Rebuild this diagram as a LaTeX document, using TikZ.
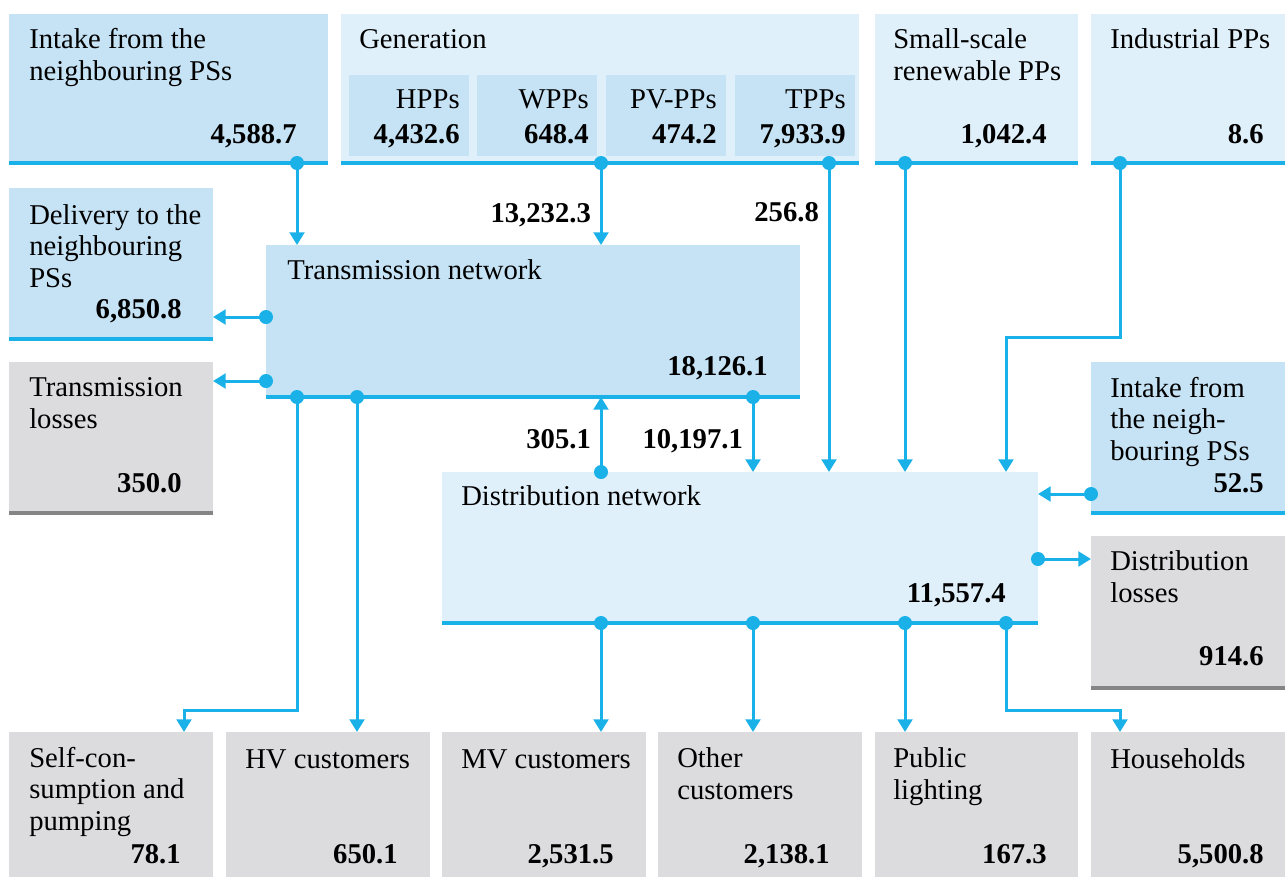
\documentclass[tikz,border=0pt]{standalone}
\usepackage{fontspec}
\setmainfont{Liberation Serif}
\usetikzlibrary{arrows.meta}
\usetikzlibrary{fit}

\definecolor{boxblue}{HTML}{C6E3F5}
\definecolor{boxpale}{HTML}{E0F0FA}
\definecolor{boxgrey}{HTML}{DCDCDE}
\definecolor{flowblue}{HTML}{1AB0E8}
\definecolor{rulegrey}{HTML}{858585}

\newcommand\diafont{\fontsize{21.5pt}{23.6pt}\selectfont}

\tikzset{
  blk/.style={inner sep=0pt, outer sep=0pt},
  bluebox/.style={blk, fill=boxblue},
  palebox/.style={blk, fill=boxpale},
  greybox/.style={blk, fill=boxgrey},
  lbl/.style={anchor=base west, align=left, inner sep=0pt, font=\diafont},
  lblr/.style={anchor=base east, inner sep=0pt, font=\diafont},
  val/.style={anchor=base east, inner sep=0pt, font=\diafont\bfseries},
  rule/.style={draw=flowblue, line width=2.5pt},
  greyrule/.style={draw=rulegrey, line width=2.5pt},
  flow/.style={draw=flowblue, line width=2.25pt, -{Triangle[width=11pt,length=9.5pt]}},
  dot/.style={circle, fill=flowblue, inner sep=0pt, minimum size=10.5pt},
  flowval/.style={anchor=base east, inner sep=0pt, xshift=-6.5pt, font=\diafont\bfseries},
}

\begin{document}
\begin{tikzpicture}[x=0.75pt, y=-0.75pt]
    \useasboundingbox (0,0) rectangle (1285,879);

    % top row
    \node [bluebox, fit={(9,14) (328,163)}] (intake) {};
    \node [palebox, fit={(341,14) (859,163)}] (gen) {};
    \node [bluebox, fit={(349,75) (469,156)}] (hpp) {};
    \node [bluebox, fit={(477,75) (597,156)}] (wpp) {};
    \node [bluebox, fit={(606,75) (726,156)}] (pv) {};
    \node [bluebox, fit={(735,75) (855,156)}] (tpp) {};
    \node [palebox, fit={(875,14) (1078,163)}] (small) {};
    \node [palebox, fit={(1091,14) (1285,163)}] (ind) {};

    % middle
    \node [bluebox, fit={(9,188) (213,339)}] (dlv) {};
    \node [greybox, fit={(9,362) (213,513)}] (tloss) {};
    \node [bluebox, fit={(266,245) (800,397)}] (tn) {};
    \node [bluebox, fit={(1091,362) (1285,513)}] (inr) {};
    \node [palebox, fit={(442,472) (1038,623)}] (dn) {};
    \node [greybox, fit={(1091,536) (1285,688)}] (dloss) {};

    % bottom row
    \node [greybox, fit={(9,732) (213,877)}] (selfc) {};
    \node [greybox, fit={(226,732) (430,877)}] (hv) {};
    \node [greybox, fit={(442,732) (646,877)}] (mv) {};
    \node [greybox, fit={(658,732) (862,877)}] (oth) {};
    \node [greybox, fit={(875,732) (1078,877)}] (pub) {};
    \node [greybox, fit={(1091,732) (1285,877)}] (hh) {};

    \foreach \b in {intake,gen,small,ind,dlv,tn,inr,dn}
        \draw [rule] (\b.south west) -- (\b.south east);
    \foreach \b in {tloss,dloss}
        \draw [greyrule] (\b.south west) -- (\b.south east);

    % texts (multi-line ones sit on their last line)
    \path (29,80) node [lbl] (tintake) {Intake from the\\neighbouring PSs};
    \path (297,143) node [val] (vintake) {4,588.7};
    \path (359,48) node [lbl] (tgen) {Generation};
    \path (460,108) node [lblr] (thpp) {HPPs};
    \path (460,143) node [val] (vhpp) {4,432.6};
    \path (589,108) node [lblr] (twpp) {WPPs};
    \path (589,143) node [val] (vwpp) {648.4};
    \path (717,108) node [lblr] (tpv) {PV-PPs};
    \path (717,143) node [val] (vpv) {474.2};
    \path (846,108) node [lblr] (ttpp) {TPPs};
    \path (846,143) node [val] (vtpp) {7,933.9};
    \path (893,80) node [lbl] (tsmall) {Small-scale\\renewable PPs};
    \path (1047,143) node [val] (vsmall) {1,042.4};
    \path (1110,48) node [lbl] (tind) {Industrial PPs};
    \path (1264,143) node [val] (vind) {8.6};

    \path (29,287) node [lbl] (tdlv) {Delivery to the\\neighbouring\\PSs};
    \path (182,318) node [val] (vdlv) {6,850.8};
    \path (29,428) node [lbl] (ttloss) {Transmission\\losses};
    \path (182,492) node [val] (vtloss) {350.0};
    \path (287,279) node [lbl] (ttn) {Transmission network};
    \path (768,375) node [val] (vtn) {18,126.1};
    \path (1110,460) node [lbl] (tinr) {Intake from\\the neigh-\\bouring PSs};
    \path (1264,492) node [val] (vinr) {52.5};
    \path (461,505) node [lbl] (tdn) {Distribution network};
    \path (1006,602) node [val] (vdn) {11,557.4};
    \path (1110,602) node [lbl] (tdloss) {Distribution\\losses};
    \path (1264,665) node [val] (vdloss) {914.6};

    \path (29,830) node [lbl] (tselfc) {Self-con-\\sumption and\\pumping};
    \path (181,863) node [val] (vselfc) {78.1};
    \path (245,768) node [lbl] (thv) {HV customers};
    \path (398,863) node [val] (vhv) {650.1};
    \path (461,768) node [lbl] (tmv) {MV customers};
    \path (614,863) node [val] (vmv) {2,531.5};
    \path (677,799) node [lbl] (toth) {Other\\customers};
    \path (830,863) node [val] (voth) {2,138.1};
    \path (893,799) node [lbl] (tpub) {Public\\lighting};
    \path (1047,863) node [val] (vpub) {167.3};
    \path (1110,768) node [lbl] (thh) {Households};
    \path (1264,863) node [val] (vhh) {5,500.8};

    % flow columns and rows
    \coordinate (cZ) at (184,0);
    \coordinate (cA) at (297,0);
    \coordinate (cB) at (357,0);
    \coordinate (cG) at (601,0);
    \coordinate (cO) at (753,0);
    \coordinate (cT) at (829,0);
    \coordinate (cS) at (905,0);
    \coordinate (cD) at (1006,0);
    \coordinate (cI) at (1120,0);
    \coordinate (rA) at (0,317);
    \coordinate (rB) at (0,381);
    \coordinate (rC) at (0,494);
    \coordinate (rD) at (0,559);

    % flows into the networks
    \draw [flow] (intake.south -| cA) node [dot] {} -- (tn.north -| cA);
    \draw [flow] (gen.south -| cG) node [dot] {} -- (tn.north -| cG)
        node [flowval, pos=0.725] {13,232.3};
    \draw [flow] (gen.south -| cT) node [dot] {} -- (dn.north -| cT)
        node [flowval, pos=0.189] {256.8};
    \draw [flow] (small.south -| cS) node [dot] {} -- (dn.north -| cS);
    \draw [flow] (ind.south -| cI) node [dot] {} -- ++(0,174) -| (dn.north -| cD);
    \draw [flow] (tn.south -| cO) node [dot] {} -- (dn.north -| cO)
        node [flowval, pos=0.68] {10,197.1};
    \draw [flow] (dn.north -| cG) node [dot] {} -- (tn.south -| cG)
        node [flowval, pos=0.32] {305.1};
    \draw [flow] (inr.west |- rC) node [dot] {} -- (dn.east |- rC);

    % flows out of the networks
    \draw [flow] (tn.west |- rA) node [dot] {} -- (dlv.east |- rA);
    \draw [flow] (tn.west |- rB) node [dot] {} -- (tloss.east |- rB);
    \draw [flow] (tn.south -| cA) node [dot] {} -- ++(0,313) -| (selfc.north -| cZ);
    \draw [flow] (tn.south -| cB) node [dot] {} -- (hv.north -| cB);
    \draw [flow] (dn.east |- rD) node [dot] {} -- (dloss.west |- rD);
    \draw [flow] (dn.south -| cG) node [dot] {} -- (mv.north -| cG);
    \draw [flow] (dn.south -| cO) node [dot] {} -- (oth.north -| cO);
    \draw [flow] (dn.south -| cS) node [dot] {} -- (pub.north -| cS);
    \draw [flow] (dn.south -| cD) node [dot] {} -- ++(0,87) -| (hh.north -| cI);
\end{tikzpicture}
\end{document}
